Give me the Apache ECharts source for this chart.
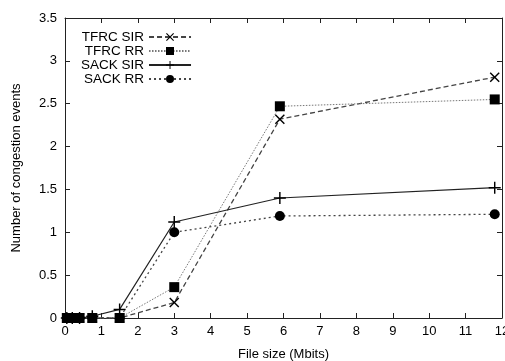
<!DOCTYPE html>
<html>
<head>
<meta charset="utf-8">
<script src="https://cdn.jsdelivr.net/npm/echarts@6/dist/echarts.min.js"></script>
<style>
html, body { margin: 0; padding: 0; background: #fff; }
#chart { width: 505px; height: 361px; }
</style>
</head>
<body>
<div id="chart"></div>
<script>
// file sizes (Mbits)
var fileSizes = [0.05, 0.2, 0.4, 0.75, 1.5, 3, 5.9, 11.8];
var seriesNames = ['TFRC SIR', 'TFRC RR', 'SACK SIR', 'SACK RR'];
var tfrcSir = [0, 0, 0, 0, 0, 0.18, 2.32, 2.81];
var tfrcRr = [0, 0, 0, 0, 0, 0.36, 2.47, 2.55];
var sackSir = [0, 0, 0, 0.02, 0.1, 1.12, 1.40, 1.52];
var sackRr = [0, 0, 0, 0, 0, 1.0, 1.19, 1.21];

var crossPath = 'path://M0,1L1,0L5,4L9,0L10,1L6,5L10,9L9,10L5,6L1,10L0,9L4,5Z';
var plusPath = 'path://M4.4,0H5.6V4.4H10V5.6H5.6V10H4.4V5.6H0V4.4H4.4Z';

function pairs(vals) {
    return vals.map(function (v, i) { return [fileSizes[i], v]; });
}

var font = 'Liberation Sans, Arial, sans-serif';
var myChart = echarts.init(document.getElementById('chart'));

function mkSeries(name, vals, symbol, size, lineType, lineColor, lineWidth) {
    return {
        name: name,
        type: 'line',
        data: pairs(vals),
        symbol: symbol,
        symbolSize: size,
        showAllSymbol: true,
        itemStyle: { color: '#000' },
        lineStyle: { color: lineColor, width: lineWidth, type: lineType },
        emphasis: { disabled: true },
        animation: false
    };
}

var axisLine = { show: true, onZero: false, lineStyle: { color: '#222', width: 1 } };

option = {
    animation: false,
    grid: { left: 65, top: 18, right: 3, bottom: 43, outerBoundsMode: 'none', containLabel: false },
    legend: {
        orient: 'vertical',
        left: 76,
        top: 25,
        align: 'right',
        itemWidth: 42,
        itemHeight: 10,
        itemGap: 0,
        textStyle: { fontFamily: font, fontSize: 13.5, color: '#000' },
        data: seriesNames
    },
    xAxis: [{
        type: 'value', min: 0, max: 12, interval: 1,
        name: 'File size (Mbits)', nameLocation: 'middle', nameGap: 30,
        nameTextStyle: { fontFamily: font, fontSize: 13, color: '#000' },
        axisLine: axisLine,
        axisTick: { inside: true, length: 5, lineStyle: { color: '#222' } },
        axisLabel: { fontFamily: font, fontSize: 13, color: '#000', margin: 7 },
        splitLine: { show: false }
    }, {
        type: 'value', min: 0, max: 12, interval: 1, position: 'top',
        axisLine: axisLine,
        axisTick: { inside: true, length: 5, lineStyle: { color: '#222' } },
        axisLabel: { show: false },
        splitLine: { show: false }
    }],
    yAxis: [{
        type: 'value', min: 0, max: 3.5, interval: 0.5,
        name: 'Number of congestion events', nameLocation: 'middle', nameGap: 42,
        nameTextStyle: { fontFamily: font, fontSize: 13, color: '#000' },
        axisLine: axisLine,
        axisTick: { inside: true, length: 5, lineStyle: { color: '#222' } },
        axisLabel: { fontFamily: font, fontSize: 13, color: '#000', margin: 8 },
        splitLine: { show: false }
    }, {
        type: 'value', min: 0, max: 3.5, interval: 0.5, position: 'right',
        axisLine: axisLine,
        axisTick: { inside: true, length: 5, lineStyle: { color: '#222' } },
        axisLabel: { show: false },
        splitLine: { show: false }
    }],
    series: [
        mkSeries('TFRC SIR', tfrcSir, crossPath, 10, [5, 3], '#444', 1.3),
        mkSeries('TFRC RR', tfrcRr, 'rect', 10, [1.5, 1.5], '#777', 1),
        mkSeries('SACK SIR', sackSir, plusPath, 12, 'solid', '#222', 1.2),
        mkSeries('SACK RR', sackRr, 'circle', 10, [2, 3], '#444', 1.3)
    ]
};
myChart.setOption(option);
</script>
</body>
</html>
